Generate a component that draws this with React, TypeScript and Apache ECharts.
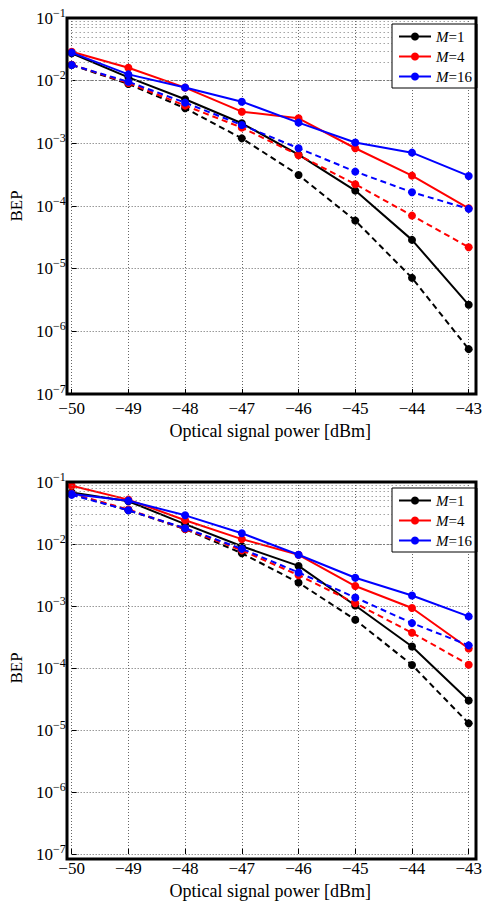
import { useEffect, useRef } from 'react';
import * as echarts from 'echarts';

const power = [-50, -49, -48, -47, -46, -45, -44, -43];
const decadeExps = [-7, -6, -5, -4, -3, -2];
const minorMantissas = [2, 3, 4, 5, 6, 7, 8, 9];
const legendNames = ['M=1', 'M=4', 'M=16'];
const colors = ['#000000', '#ff0000', '#0000ff'];

// Top panel
const topM1Solid = [2.74e-2, 1.13e-2, 5.05e-3, 2.09e-3, 6.6e-4, 1.76e-4, 2.88e-5, 2.65e-6];
const topM1Dashed = [1.78e-2, 8.86e-3, 3.63e-3, 1.2e-3, 3.13e-4, 5.85e-5, 7.13e-6, 5.2e-7];
const topM4Solid = [2.9e-2, 1.61e-2, 7.74e-3, 3.2e-3, 2.51e-3, 8.35e-4, 3.05e-4, 9.2e-5];
const topM4Dashed = [1.8e-2, 9.2e-3, 4.0e-3, 1.78e-3, 6.46e-4, 2.23e-4, 7.03e-5, 2.2e-5];
const topM16Solid = [2.8e-2, 1.26e-2, 7.8e-3, 4.62e-3, 2.14e-3, 1.03e-3, 7.1e-4, 3.02e-4];
const topM16Dashed = [1.78e-2, 9.6e-3, 4.46e-3, 1.96e-3, 8.35e-4, 3.54e-4, 1.66e-4, 9.0e-5];

// Bottom panel
const botM1Solid = [6.8e-2, 4.9e-2, 2.09e-2, 9.2e-3, 4.43e-3, 1.02e-3, 2.22e-4, 3.0e-5];
const botM1Dashed = [6.4e-2, 3.5e-2, 1.74e-2, 7.1e-3, 2.38e-3, 6.0e-4, 1.12e-4, 1.28e-5];
const botM4Solid = [8.7e-2, 5.2e-2, 2.42e-2, 1.2e-2, 6.7e-3, 2.1e-3, 9.3e-4, 2.06e-4];
const botM4Dashed = [6.5e-2, 3.6e-2, 1.75e-2, 7.9e-3, 3.14e-3, 1.11e-3, 3.7e-4, 1.13e-4];
const botM16Solid = [6.4e-2, 5.0e-2, 2.9e-2, 1.49e-2, 6.7e-3, 2.85e-3, 1.48e-3, 6.8e-4];
const botM16Dashed = [6.2e-2, 3.5e-2, 1.8e-2, 8.35e-3, 3.47e-3, 1.37e-3, 5.3e-4, 2.32e-4];

const FONT = '"Liberation Serif", "DejaVu Serif", serif';

export default function App() {
  const ref = useRef<HTMLDivElement>(null);
  useEffect(() => {
    if (!ref.current) return;
    const chart = echarts.init(ref.current, undefined, { renderer: 'svg' });

    const minorVals: number[] = [];
    decadeExps.forEach((e) => minorMantissas.forEach((m) => minorVals.push(m * Math.pow(10, e))));

    const grids = [
      { left: 67, top: 18, width: 409, height: 376 },
      { left: 67, top: 482, width: 409, height: 377 },
    ];

    const panels = [
      { solid: [topM1Solid, topM4Solid, topM16Solid], dashed: [topM1Dashed, topM4Dashed, topM16Dashed] },
      { solid: [botM1Solid, botM4Solid, botM16Solid], dashed: [botM1Dashed, botM4Dashed, botM16Dashed] },
    ];

    const mkDotted = () => ({ color: '#666', width: 1, type: [1, 2] as any });
    const mkTick = () => ({ show: true, inside: true, length: 5, lineStyle: { color: '#000', width: 1 } });

    const xAxes: any[] = grids.map((_, i) => ({
      type: 'value',
      gridIndex: i,
      position: 'bottom',
      min: -50,
      max: -43,
      interval: 1,
      name: 'Optical signal power [dBm]',
      nameLocation: 'middle',
      nameGap: 28,
      nameTextStyle: { fontFamily: FONT, fontSize: 18, color: '#000' },
      axisLine: { show: false },
      axisTick: mkTick(),
      axisLabel: {
        fontFamily: FONT,
        fontSize: 17,
        color: '#000',
        margin: 6,
        formatter: (v: number) => String(v).replace('-', '\u2212'),
      },
      splitLine: { show: true, lineStyle: mkDotted() },
    }));

    const yAxes: any[] = grids.map((_, i) => ({
      type: 'log',
      logBase: 10,
      gridIndex: i,
      position: 'left',
      min: 1e-7,
      max: 1e-1,
      name: 'BEP',
      nameLocation: 'middle',
      nameGap: 42,
      nameTextStyle: { fontFamily: FONT, fontSize: 17, color: '#000' },
      axisLine: { show: false },
      axisTick: mkTick(),
      axisLabel: {
        margin: 6,
        formatter: (v: number) => {
          const e = Math.round(Math.log10(v));
          return '{b|10}{s|\u2212' + String(-e) + '}';
        },
        rich: {
          b: { fontFamily: FONT, fontSize: 17, color: '#000' },
          s: { fontFamily: FONT, fontSize: 12, color: '#000', padding: [0, 0, 11, 0] },
        },
      },
      splitLine: { show: true, lineStyle: mkDotted() },
    }));

    const series: any[] = [];
    panels.forEach((p, gi) => {
      series.push({
        type: 'line',
        name: 'minor' + gi,
        xAxisIndex: gi,
        yAxisIndex: gi,
        data: [],
        silent: true,
        z: 1,
        markLine: {
          silent: true,
          symbol: 'none',
          label: { show: false },
          lineStyle: { color: '#777', width: 1, type: [1, 3] },
          data: minorVals.map((v) => ({ yAxis: v })),
        },
      });
      for (let k = 0; k < 3; k++) {
        series.push({
          type: 'line',
          name: legendNames[k],
          xAxisIndex: gi,
          yAxisIndex: gi,
          data: power.map((x, j) => [x, p.solid[k][j]]),
          symbol: 'circle',
          symbolSize: 8,
          color: colors[k],
          itemStyle: { color: colors[k] },
          lineStyle: { color: colors[k], width: 2, type: 'solid' },
          z: 3 + k,
        });
        series.push({
          type: 'line',
          name: legendNames[k] + ' ',
          xAxisIndex: gi,
          yAxisIndex: gi,
          data: power.map((x, j) => [x, p.dashed[k][j]]),
          symbol: 'circle',
          symbolSize: 8,
          color: colors[k],
          itemStyle: { color: colors[k] },
          lineStyle: { color: colors[k], width: 2, type: [6, 4] },
          z: 3 + k,
        });
      }
    });

    const legendBase = {
      orient: 'vertical',
      data: legendNames,
      left: 392,
      itemWidth: 32,
      itemHeight: 10,
      itemGap: 5,
      padding: [5, 5, 4, 6],
      backgroundColor: '#fff',
      borderColor: '#000',
      borderWidth: 1,
      selectedMode: false,
      z: 10,
      formatter: (name: string) => '{i|M}{n|' + name.slice(1) + '}',
      textStyle: {
        rich: {
          i: { fontFamily: FONT, fontSize: 15, fontStyle: 'italic', color: '#000', lineHeight: 12 },
          n: { fontFamily: FONT, fontSize: 15, color: '#000', lineHeight: 12 },
        },
      },
    };

    chart.setOption({
      animation: false,
      backgroundColor: '#fff',
      grid: grids.map((g) => ({ ...g })),
      xAxis: xAxes,
      yAxis: yAxes,
      legend: [
        { ...legendBase, top: 24 },
        { ...legendBase, top: 488 },
      ],
      graphic: grids.map((g) => ({
        type: 'rect',
        z: 50,
        silent: true,
        shape: { x: g.left, y: g.top, width: g.width, height: g.height },
        style: { fill: 'none', stroke: '#000', lineWidth: 3 },
      })),
      series,
    });
    return () => chart.dispose();
  }, []);
  return <div ref={ref} style={{ position: 'fixed', left: 0, top: 0, width: 485, height: 901 }} />;
}
